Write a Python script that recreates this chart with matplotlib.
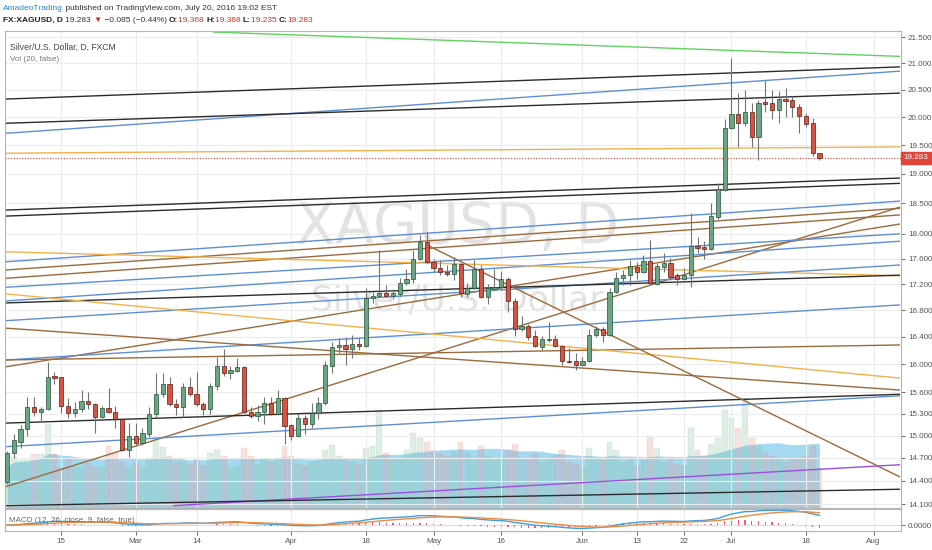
import numpy as np
import pandas as pd
import matplotlib
matplotlib.use("Agg")
import matplotlib.pyplot as plt

# --- Fonts ---
plt.rcParams['font.family'] = ['Liberation Sans', 'DejaVu Sans']
FS = 5.8

# --- Data: XAGUSD daily, FXCM ---
dates = pd.bdate_range("2016-02-03", "2016-07-20")

opens = [14.38, 14.76, 14.92, 15.09, 15.39, 15.32, 15.36, 15.83, 15.81, 15.40,
         15.31, 15.36, 15.47, 15.43, 15.25, 15.38, 15.32, 15.22, 14.80, 14.99,
         14.90, 15.02, 15.29, 15.57, 15.71, 15.43, 15.39, 15.67, 15.57, 15.43,
         15.36, 15.69, 15.97, 15.87, 15.90, 15.96, 15.33, 15.27, 15.32, 15.45,
         15.29, 15.52, 15.14, 14.99, 15.24, 15.16, 15.31, 15.45, 15.97, 16.25,
         16.28, 16.22, 16.29, 16.26, 16.98, 17.02, 17.06, 17.02, 17.05, 17.22,
         17.28, 17.59, 17.87, 17.55, 17.45, 17.39, 17.36, 17.51, 17.05, 17.14,
         17.43, 17.00, 17.13, 17.16, 17.28, 16.94, 16.51, 16.56, 16.41, 16.25,
         16.35, 16.37, 16.26, 16.04, 16.04, 15.99, 16.04, 16.42, 16.51, 16.42,
         17.08, 17.29, 17.34, 17.47, 17.39, 17.56, 17.20, 17.47, 17.53, 17.34,
         17.28, 17.34, 17.80, 17.78, 17.75, 18.27, 18.72, 19.80, 20.06, 19.89,
         20.09, 19.64, 20.27, 20.25, 20.13, 20.33, 20.31, 20.18, 20.02, 19.89,
         19.368]
highs = [14.79, 15.02, 15.14, 15.53, 15.53, 15.39, 16.03, 15.89, 15.82, 15.52,
         15.46, 15.63, 15.60, 15.45, 15.40, 15.66, 15.40, 15.24, 15.17, 15.17,
         15.11, 15.39, 15.87, 15.87, 15.81, 15.50, 15.73, 15.81, 15.89, 15.46,
         15.73, 16.10, 16.22, 15.97, 16.09, 15.97, 15.39, 15.42, 15.53, 15.53,
         15.63, 15.53, 15.16, 15.29, 15.28, 15.45, 15.53, 16.04, 16.32, 16.38,
         16.40, 16.43, 16.38, 17.14, 17.08, 17.74, 17.18, 17.12, 17.29, 17.43,
         17.74, 17.98, 18.03, 17.59, 17.58, 17.50, 17.63, 17.53, 17.22, 17.58,
         17.50, 17.20, 17.43, 17.40, 17.31, 16.98, 16.71, 16.59, 16.50, 16.41,
         16.62, 16.43, 16.28, 16.23, 16.16, 16.10, 16.51, 16.56, 16.54, 17.14,
         17.39, 17.42, 17.58, 17.55, 17.66, 17.90, 17.53, 17.69, 17.61, 17.37,
         17.45, 18.34, 17.95, 17.88, 18.51, 18.84, 19.96, 21.10, 20.44, 20.50,
         20.26, 20.31, 20.66, 20.50, 20.48, 20.53, 20.39, 20.24, 20.07, 19.98,
         19.368]
lows = [14.36, 14.70, 14.83, 14.99, 15.27, 15.18, 15.35, 15.71, 15.31, 15.24,
        15.25, 15.32, 15.36, 15.03, 15.24, 15.31, 15.11, 14.79, 14.71, 14.86,
        14.87, 14.98, 15.25, 15.53, 15.40, 15.28, 15.25, 15.54, 15.40, 15.28,
        15.29, 15.63, 15.83, 15.79, 15.89, 15.31, 15.24, 15.20, 15.16, 15.28,
        15.28, 14.88, 14.94, 14.98, 15.02, 15.11, 15.22, 15.42, 15.87, 16.16,
        15.99, 16.09, 16.20, 16.25, 16.91, 17.00, 17.00, 16.97, 17.02, 17.19,
        17.22, 17.58, 17.53, 17.39, 17.34, 17.32, 17.26, 17.00, 17.00, 17.12,
        16.98, 16.89, 17.12, 17.11, 16.77, 16.41, 16.48, 16.35, 16.25, 16.20,
        16.32, 16.25, 15.99, 16.01, 15.91, 15.97, 16.03, 16.40, 16.32, 16.41,
        17.06, 17.18, 17.18, 17.28, 17.37, 17.18, 17.18, 17.39, 17.26, 17.18,
        17.26, 17.15, 17.69, 17.59, 17.74, 18.24, 18.71, 19.78, 19.47, 19.85,
        19.47, 19.24, 20.09, 19.96, 19.89, 20.00, 20.00, 19.71, 19.82, 19.31,
        19.235]
closes = [14.76, 14.94, 15.09, 15.39, 15.32, 15.36, 15.81, 15.80, 15.40, 15.31,
          15.36, 15.47, 15.43, 15.25, 15.38, 15.32, 15.22, 14.80, 14.99, 14.90,
          15.03, 15.29, 15.57, 15.71, 15.43, 15.39, 15.67, 15.57, 15.43, 15.36,
          15.69, 15.97, 15.87, 15.91, 15.96, 15.32, 15.27, 15.32, 15.45, 15.29,
          15.52, 15.13, 14.99, 15.24, 15.16, 15.31, 15.45, 15.99, 16.25, 16.28,
          16.22, 16.29, 16.26, 16.98, 17.02, 17.06, 17.02, 17.06, 17.22, 17.28,
          17.59, 17.87, 17.55, 17.45, 17.39, 17.36, 17.51, 17.06, 17.14, 17.43,
          17.00, 17.14, 17.16, 17.28, 16.94, 16.51, 16.56, 16.40, 16.26, 16.37,
          16.37, 16.26, 16.04, 16.03, 15.99, 16.04, 16.42, 16.51, 16.42, 17.08,
          17.29, 17.34, 17.48, 17.39, 17.56, 17.22, 17.48, 17.53, 17.31, 17.28,
          17.34, 17.80, 17.77, 17.75, 18.29, 18.74, 19.80, 20.06, 19.89, 20.09,
          19.64, 20.25, 20.24, 20.13, 20.33, 20.29, 20.18, 20.02, 19.88, 19.37,
          19.283]
# tick volume (thousands)
volume = [41, 51, 48, 48, 54, 54, 84, 54, 41, 50, 41, 41, 45, 41, 41, 62, 56, 46, 41, 45, 40, 50, 70, 61,
          52, 46, 50, 44, 50, 42, 55, 58, 52, 40, 42, 60, 52, 44, 48, 46, 50, 62, 52, 44, 42, 46, 48, 58,
          63, 52, 50, 46, 44, 60, 62, 98, 55, 48, 50, 58, 75, 70, 66, 58, 54, 52, 56, 66, 55, 50, 62, 52,
          48, 50, 58, 64, 50, 48, 54, 46, 50, 53, 58, 46, 44, 40, 60, 50, 48, 66, 58, 46, 50, 42, 48, 72,
          60, 46, 50, 44, 42, 80, 58, 52, 64, 70, 98, 90, 80, 110, 70, 62, 55, 52, 50, 46, 48, 50, 52, 62, 40]

# drawn trend lines: (bar0, price0, bar1, price1, colour)
BLACK, BLUE, BROWN, ORANGE = '#2b2b2b', '#5d8fd6', '#9b6a3c', '#f2b24a'
trend_lines = [
    (30.4, 21.60, 131.9, 21.13, '#5fd35f'),
    (-0.3, 20.33, 131.9, 20.93, BLACK),
    (-0.3, 19.71, 131.9, 20.85, BLUE),
    (-0.3, 19.89, 131.9, 20.44, BLACK),
    (-0.3, 19.36, 131.9, 19.47, ORANGE),
    (-0.3, 18.39, 131.9, 18.93, BLACK),
    (-0.3, 18.29, 131.9, 18.84, BLACK),
    (-0.3, 17.55, 131.9, 18.54, BLUE),
    (-0.3, 17.42, 131.9, 18.42, BROWN),
    (-0.3, 17.29, 131.9, 18.31, BROWN),
    (-0.3, 14.32, 131.9, 18.44, BROWN),
    (-0.3, 15.96, 131.9, 18.16, BROWN),
    (-0.3, 17.15, 131.9, 18.00, BLUE),
    (-0.3, 16.94, 131.9, 17.88, BLUE),
    (-0.3, 17.71, 131.9, 17.33, ORANGE),
    (-0.3, 16.64, 131.9, 17.50, BLUE),
    (-0.3, 16.91, 131.9, 17.34, BLACK),
    (-0.3, 16.06, 131.9, 16.88, BLUE),
    (-0.3, 16.06, 131.9, 16.28, BROWN),
    (-0.3, 17.05, 131.9, 15.80, ORANGE),
    (-0.3, 16.53, 131.9, 15.63, BROWN),
    (-0.3, 15.17, 131.9, 15.57, BLACK),
    (-0.3, 14.85, 131.9, 15.55, BLUE),
    (62.0, 17.82, 131.9, 14.45, BROWN),
    (24.5, 14.08, 131.9, 14.61, '#9b4fe0'),
    (-0.3, 14.08, 131.9, 14.29, BLACK),
]

price_ticks = [21.5, 21.0, 20.5, 20.0, 19.5, 19.0, 18.5, 18.0, 17.6, 17.2,
               16.8, 16.4, 16.0, 15.6, 15.3, 15.0, 14.7, 14.4, 14.1]
date_ticks = ["2016-02-15", "2016-03-01", "2016-03-14", "2016-04-01", "2016-04-18",
              "2016-05-02", "2016-05-16", "2016-06-01", "2016-06-13", "2016-06-22",
              "2016-07-01", "2016-07-18", "2016-08-01"]
date_labels = ["15", "Mar", "14", "Apr", "18", "May", "16", "Jun", "13", "22", "Jul", "18", "Aug"]

# --- Derived ---
o, h, l, c = map(np.array, (opens, highs, lows, closes))
x = np.arange(len(c))
up = c >= o
vol = pd.Series(volume, dtype=float)
vol_ma = vol.rolling(20, min_periods=1).mean()
cs = pd.Series(c)
macd = cs.ewm(span=12, adjust=False).mean() - cs.ewm(span=26, adjust=False).mean()
signal = macd.ewm(span=9, adjust=False).mean()
hist = macd - signal

all_days = pd.bdate_range("2016-02-03", "2016-08-10")
tick_pos = [all_days.get_loc(pd.Timestamp(d)) for d in date_ticks]

# --- Figure ---
W, H = 932, 550
fig = plt.figure(figsize=(W / 100, H / 100), dpi=100)
ax = fig.add_axes([5 / W, (H - 508) / H, 896 / W, 477 / H])
axm = fig.add_axes([5 / W, (H - 531) / H, 896 / W, 22 / H])
XLIM = (-0.3, 132.05)

# volume overlay (twin first, so the price axis keeps its right-hand ticks)
axv = ax.twinx()
axv.set_ylim(0, 477)
axv.set_xlim(*XLIM)
axv.axis('off')
axv.fill_between(x, 0, vol_ma, color='#8fd0ef', alpha=0.8, lw=0, zorder=1)
axv.bar(x, vol, width=0.85, color=np.where(up, '#7fbf94', '#e08a7e'), alpha=0.25,
        edgecolor=np.where(up, '#5fa57a', '#c87c70'), linewidth=0.3, zorder=2)
ax.set_zorder(axv.get_zorder() + 1)
ax.patch.set_visible(False)

ax.set_yscale('log')
ax.set_xlim(*XLIM)
ax.set_ylim(14.05, 21.62)
ax.yaxis.tick_right()
ax.yaxis.set_label_position('right')
ax.set_yticks(price_ticks)
ax.set_yticks([], minor=True)
ax.set_yticklabels([f"{t:.3f}" for t in price_ticks])
ax.tick_params(axis='y', which='both', left=False, right=True, labelleft=False, labelright=True,
               labelsize=FS, colors='#555555', length=3, pad=2, width=0.6)
ax.set_xticks(tick_pos)
ax.tick_params(axis='x', length=0, labelbottom=False)
ax.grid(True, color='#ececec', lw=0.8)
for s in ax.spines.values():
    s.set_color('#b5b5b5')
    s.set_linewidth(0.8)

# watermark
ax.text(0.505, 0.585, "XAGUSD, D", transform=ax.transAxes, fontsize=41, color='#e2e2e2',
        ha='center', va='center', zorder=0, family='DejaVu Sans')
ax.text(0.505, 0.435, "Silver/U.S. Dollar", transform=ax.transAxes, fontsize=25, color='#e2e2e2',
        ha='center', va='center', zorder=0, family='DejaVu Sans')

# trend lines
for x0, p0, x1, p1, col in trend_lines:
    ax.plot([x0, x1], [p0, p1], color=col, lw=1.0, zorder=2, solid_capstyle='butt')

# last price line
ax.axhline(c[-1], color='#e0453a', lw=0.8, ls=(0, (1, 1.5)), zorder=2)

# candles
ax.vlines(x, l, h, color='#737375', lw=0.8, zorder=3)
body_lo = np.minimum(o, c)
body_h = np.maximum(np.abs(c - o), 0.012)
ax.bar(x, body_h, bottom=body_lo, width=0.62, color=np.where(up, '#6ba583', '#d75442'),
       edgecolor=np.where(up, '#225437', '#5b1a13'), linewidth=0.5, zorder=4)

# price label
ax.annotate(f"{c[-1]:.3f}", xy=(1.0, c[-1]), xycoords=('axes fraction', 'data'),
            xytext=(2, 0), textcoords='offset points', va='center', ha='left',
            fontsize=FS, color='white', annotation_clip=False,
            bbox=dict(boxstyle='square,pad=0.3', fc='#e0453a', ec='#e0453a'))

ax.text(0.006, 0.965, "Silver/U.S. Dollar, D, FXCM", transform=ax.transAxes,
        fontsize=FS + 0.4, color='#444444', va='center')
ax.text(0.006, 0.94, "Vol (20, false)", transform=ax.transAxes,
        fontsize=FS, color='#777777', va='center')

# MACD pane
axm.set_xlim(*XLIM)
top = macd.max() * 1.08
axm.set_ylim(-0.375 * top, top)
axm.axhline(0, color='#dddddd', lw=0.8)
axm.bar(x, hist, width=0.18, color='#ef5c7a', zorder=2)
axm.plot(x, macd, color='#3aa0e0', lw=1.0, zorder=3)
axm.plot(x, signal, color='#f08a3c', lw=1.0, zorder=3)
axm.yaxis.tick_right()
axm.set_yticks([0])
axm.set_yticklabels(["0.0000"])
axm.tick_params(axis='y', labelsize=FS, colors='#555555', length=3, pad=2, width=0.6)
axm.set_xticks(tick_pos)
axm.set_xticklabels(date_labels)
axm.tick_params(axis='x', labelsize=FS, colors='#555555', length=3, pad=2, width=0.6)
axm.grid(True, axis='x', color='#ececec', lw=0.8)
for s in axm.spines.values():
    s.set_color('#b5b5b5')
    s.set_linewidth(0.8)
axm.text(0.004, 0.5, "MACD (12, 26, close, 9, false, true)", transform=axm.transAxes,
         fontsize=FS, color='#666666', va='center')

# header
fig.canvas.draw()
renderer = fig.canvas.get_renderer()


def write_row(pieces, y):
    xpos = 3
    for txt, col, wt in pieces:
        t = fig.text(xpos / W, 1 - y / H, txt, color=col, fontsize=FS + 0.2, weight=wt, va='center')
        xpos += t.get_window_extent(renderer).width


write_row([("AmadeoTrading", '#2a83c7', 'normal'),
           (" published on TradingView.com, July 20, 2016 19:02 EST", '#333333', 'normal')], 8)
RED = '#c0392b'
write_row([("FX:XAGUSD, D ", '#222222', 'bold'), ("19.283 ", '#333333', 'normal'),
           ("▼", RED, 'normal'), (" \u22120.085 (\u22120.44%) ", '#333333', 'normal'),
           ("O:", '#222222', 'bold'), ("19.368 ", RED, 'normal'),
           ("H:", '#222222', 'bold'), ("19.368 ", RED, 'normal'),
           ("L:", '#222222', 'bold'), ("19.235 ", RED, 'normal'),
           ("C:", '#222222', 'bold'), ("19.283", RED, 'normal')], 20)

fig.savefig("out.png", dpi=100)
